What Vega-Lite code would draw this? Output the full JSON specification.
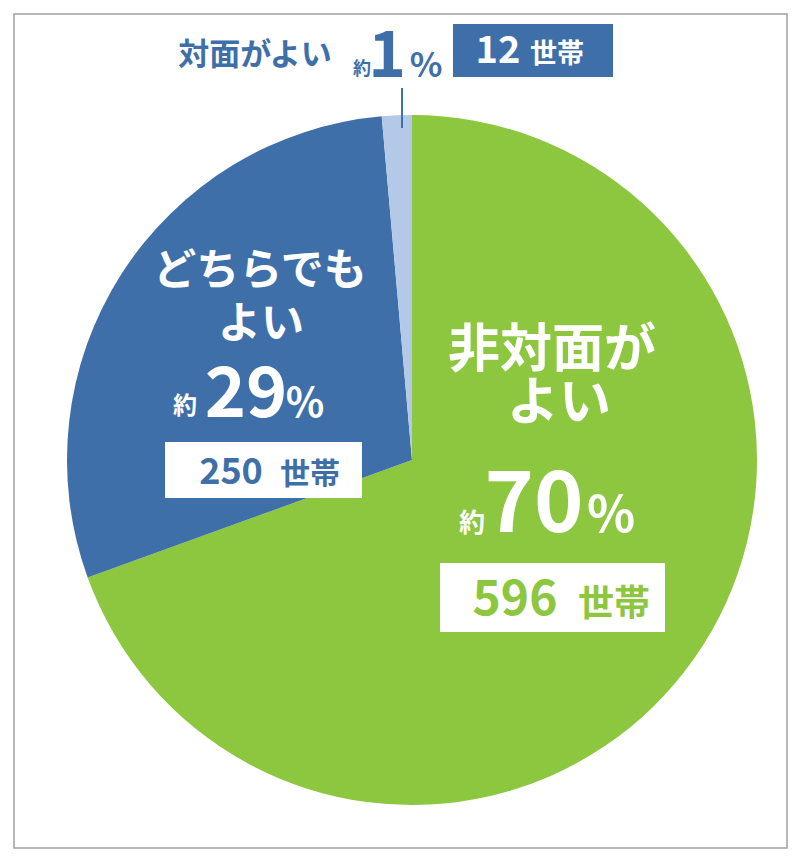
{
  "$schema": "https://vega.github.io/schema/vega-lite/v6.json",
  "width": 800,
  "height": 860,
  "autosize": {"type": "fit", "contains": "padding"},
  "padding": {"left": 14, "top": 14, "right": 13, "bottom": 12},
  "background": "white",
  "config": {"view": {"stroke": "#a0a0a0", "strokeWidth": 1.5}, "font": "Noto Sans CJK JP"},
  "datasets": {
    "pie": [
      {"answer": "非対面がよい", "households": 596, "rank": 1},
      {"answer": "どちらでもよい", "households": 250, "rank": 2},
      {"answer": "対面がよい", "households": 12, "rank": 3}
    ],
    "leader": [{"x": 402, "y": 88, "y2": 128}],
    "boxes": [
      {"answer": "対面がよい", "style": "filled", "x": 453, "x2": 613, "y": 24, "y2": 77},
      {"answer": "どちらでもよい", "style": "plain", "x": 165, "x2": 362, "y": 442, "y2": 498},
      {"answer": "非対面がよい", "style": "plain", "x": 440, "x2": 665, "y": 563, "y2": 632}
    ],
    "labels": [
      {"text": "対面がよい", "role": "labelS", "tone": "blue", "x": 255, "y": 65},
      {"text": "約", "role": "approxS", "tone": "blue", "x": 362, "y": 75},
      {"text": "1", "role": "pctS", "tone": "blue", "x": 387, "y": 77},
      {"text": "%", "role": "signS", "tone": "blue", "x": 426, "y": 77},
      {"text": "12", "role": "countS", "tone": "white", "x": 498, "y": 63},
      {"text": "世帯", "role": "unitS", "tone": "white", "x": 557, "y": 63},
      {"text": "どちらでも", "role": "labelM", "tone": "white", "x": 260, "y": 285},
      {"text": "よい", "role": "labelM", "tone": "white", "x": 261, "y": 338},
      {"text": "約", "role": "approxM", "tone": "white", "x": 185, "y": 414},
      {"text": "29", "role": "pctM", "tone": "white", "x": 246, "y": 417},
      {"text": "%", "role": "signM", "tone": "white", "x": 305, "y": 417},
      {"text": "250", "role": "countM", "tone": "blue", "x": 231, "y": 484},
      {"text": "世帯", "role": "unitM", "tone": "blue", "x": 310, "y": 484},
      {"text": "非対面が", "role": "labelL", "tone": "white", "x": 552, "y": 367},
      {"text": "よい", "role": "labelL", "tone": "white", "x": 559, "y": 420},
      {"text": "約", "role": "approxL", "tone": "white", "x": 472, "y": 532},
      {"text": "70", "role": "pctL", "tone": "white", "x": 534, "y": 532},
      {"text": "%", "role": "signL", "tone": "white", "x": 611, "y": 532},
      {"text": "596", "role": "countL", "tone": "green", "x": 515, "y": 615},
      {"text": "世帯", "role": "unitL", "tone": "green", "x": 614, "y": 616}
    ]
  },
  "layer": [
    {
      "data": {"name": "pie"},
      "mark": {"type": "arc", "outerRadius": 345},
      "encoding": {
        "theta": {"field": "households", "type": "quantitative", "stack": true},
        "order": {"field": "rank", "type": "quantitative"},
        "color": {
          "field": "answer",
          "type": "nominal",
          "scale": {"domain": ["非対面がよい", "どちらでもよい", "対面がよい"], "range": ["#8dc63f", "#3f6fa9", "#b4c8e7"]},
          "legend": null
        },
        "x": {"datum": 412, "type": "quantitative", "scale": {"domain": [14, 787], "zero": false, "nice": false}, "axis": null},
        "y": {"datum": 460, "type": "quantitative", "scale": {"domain": [14, 848], "reverse": true, "zero": false, "nice": false}, "axis": null}
      }
    },
    {
      "data": {"name": "leader"},
      "mark": {"type": "rule", "color": "#3f6fa9", "strokeWidth": 2},
      "encoding": {
        "x": {"field": "x", "type": "quantitative"},
        "y": {"field": "y", "type": "quantitative"},
        "y2": {"field": "y2"}
      }
    },
    {
      "data": {"name": "boxes"},
      "mark": {"type": "rect"},
      "encoding": {
        "x": {"field": "x", "type": "quantitative"},
        "x2": {"field": "x2"},
        "y": {"field": "y", "type": "quantitative"},
        "y2": {"field": "y2"},
        "fill": {
          "field": "style",
          "type": "nominal",
          "scale": {"domain": ["filled", "plain"], "range": ["#3f6fa9", "#ffffff"]},
          "legend": null
        }
      }
    },
    {
      "data": {"name": "labels"},
      "mark": {"type": "text", "fontWeight": "bold", "align": "center", "baseline": "alphabetic", "font": "Noto Sans CJK JP"},
      "encoding": {
        "x": {"field": "x", "type": "quantitative"},
        "y": {"field": "y", "type": "quantitative"},
        "text": {"field": "text"},
        "color": {
          "field": "tone",
          "type": "nominal",
          "scale": {"domain": ["blue", "white", "green"], "range": ["#3f6fa9", "#ffffff", "#8dc63f"]},
          "legend": null
        },
        "size": {
          "field": "role",
          "type": "nominal",
          "scale": {
            "type": "ordinal",
            "domain": ["labelS", "approxS", "pctS", "signS", "countS", "unitS", "labelM", "approxM", "pctM", "signM", "countM", "unitM", "labelL", "approxL", "pctL", "signL", "countL", "unitL"],
            "range": [31, 18, 64, 34, 38, 27, 43, 24, 70, 40, 36, 30, 52, 26, 84, 50, 48, 36]
          },
          "legend": null
        }
      }
    }
  ],
  "resolve": {"scale": {"color": "independent"}}
}
